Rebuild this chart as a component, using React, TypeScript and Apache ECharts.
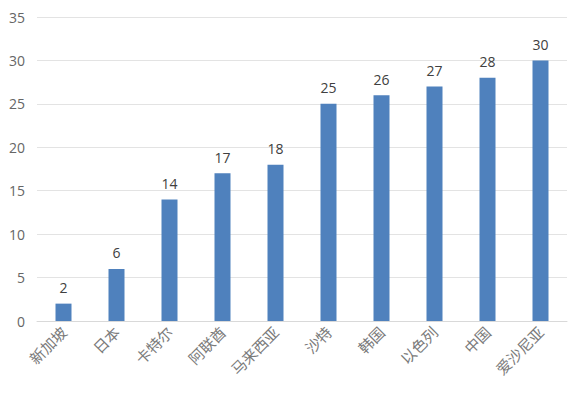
import React, { useEffect, useRef } from "react";
import * as echarts from "echarts";

const categories = ["新加坡", "日本", "卡特尔", "阿联酋", "马来西亚", "沙特", "韩国", "以色列", "中国", "爱沙尼亚"];
const values = [2, 6, 14, 17, 18, 25, 26, 27, 28, 30];

export default function App() {
  const ref = useRef<HTMLDivElement>(null);
  useEffect(() => {
    const chart = echarts.init(ref.current!, undefined, { renderer: "svg" });
    chart.setOption({
      animation: false,
      backgroundColor: "#ffffff",
      grid: { left: 37, right: 17, top: 17, bottom: 78, containLabel: false },
      xAxis: {
        type: "category",
        data: categories,
        axisLine: { lineStyle: { color: "#d9d9d9" } },
        axisTick: { show: false },
        axisLabel: {
          rotate: 45,
          color: "#7a7a7a",
          fontSize: 15,
          margin: 8,
          fontFamily: "Noto Sans CJK SC",
          interval: 0,
        },
      },
      yAxis: {
        type: "value",
        min: 0,
        max: 35,
        interval: 5,
        axisLine: { show: false },
        axisTick: { show: false },
        splitLine: { lineStyle: { color: "#e3e3e3" } },
        axisLabel: { color: "#666666", fontSize: 14, margin: 12, fontFamily: "Open Sans" },
      },
      series: [
        {
          type: "bar",
          data: values,
          barWidth: 16,
          itemStyle: { color: "#4f81bd" },
          label: {
            show: true,
            position: "top",
            color: "#404040",
            fontSize: 14,
            distance: 9,
            fontFamily: "Open Sans",
          },
        },
      ],
    });
    return () => chart.dispose();
  }, []);
  return <div ref={ref} style={{ width: 584, height: 399, position: "absolute", left: 0, top: 0 }} />;
}
